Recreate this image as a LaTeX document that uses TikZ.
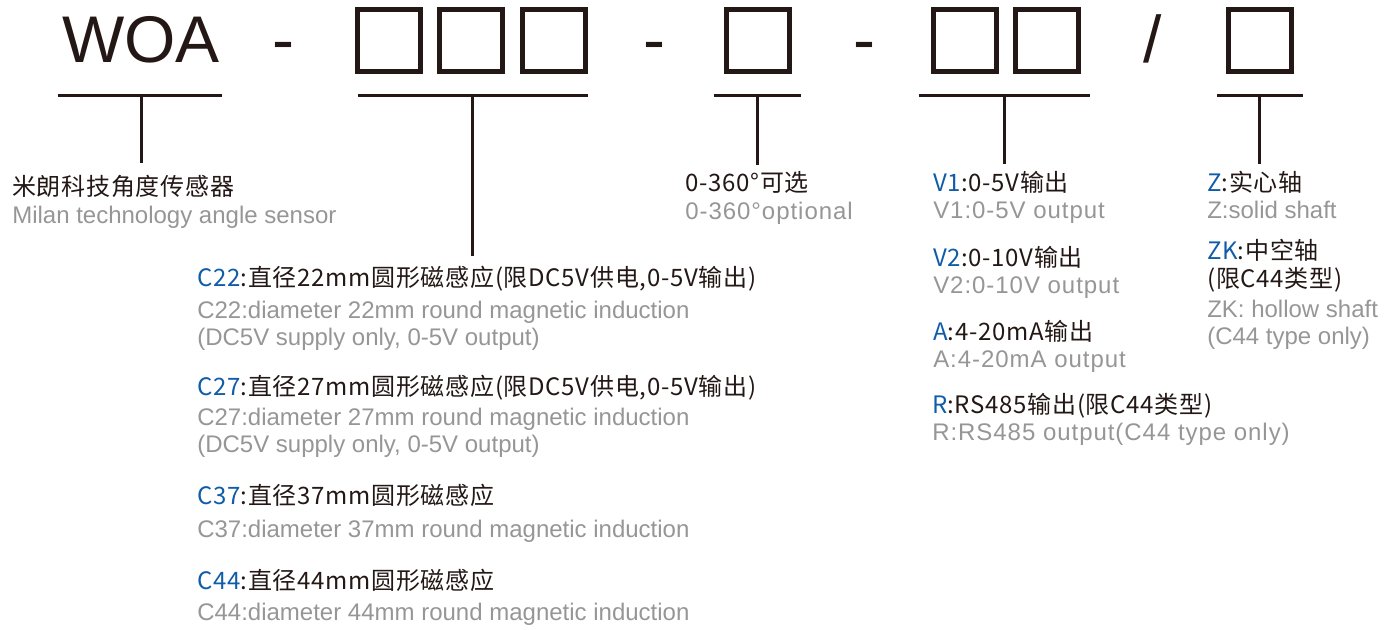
\documentclass[tikz,border=0pt]{standalone}
\usepackage{fontspec}
\setmainfont{Liberation Sans}
\newfontfamily\cjk[LetterSpace=3]{Noto Sans CJK SC}
\newfontfamily\widesans[LetterSpace=4]{Liberation Sans}
\usetikzlibrary{positioning}
\definecolor{codeblue}{RGB}{16,92,168}
\definecolor{notegray}{RGB}{150,150,150}
\definecolor{ink}{RGB}{35,24,21}
\newcommand{\blu}[1]{\textcolor{codeblue}{#1}}

\begin{document}
\begin{tikzpicture}[
  x=0.75pt,y=-0.75pt,
  code/.style={font=\fontsize{49.5}{50}\selectfont,text=ink,inner sep=0pt,anchor=base},
  slot/.style={draw=ink,line width=3.75pt,minimum width=47.25pt,minimum height=46.5pt,inner sep=0pt},
  bar/.style={ink,line width=2.25pt},
  zh/.style={font=\cjk\fontsize{18}{18}\selectfont,text=ink,inner sep=0pt,anchor=base west},
  en/.style={font=\fontsize{18}{18}\selectfont,text=notegray,inner sep=0pt,anchor=base west},
  enw/.style={en,font=\widesans\fontsize{18}{18}\selectfont}
]
  \useasboundingbox (0,0) rectangle (1397,629);
  % model code
  \node[code] (woa) at (141,62) {WOA};
  \node[code] (d1) at (283.5,62) {-};
  \node[slot] (s1) at (389,40.5) {};
  \node[slot] (s2) at (471,40.5) {};
  \node[slot] (s3) at (554,40.5) {};
  \node[code] (d2) at (654,62) {-};
  \node[slot] (s4) at (757.5,40.5) {};
  \node[code] (d3) at (864,62) {-};
  \node[slot] (s5) at (964.5,40.5) {};
  \node[slot] (s6) at (1047,40.5) {};
  \node[code] (sl) at (1153,62) {/};
  \node[slot] (s7) at (1259.5,40.5) {};
  % underlines and drops
  \coordinate (u1l) at (58,95);   \coordinate (u1r) at (222,95);
  \coordinate (u1t) at (141,95);  \coordinate (u1b) at (141,163);
  \coordinate (u2l) at (358,95);  \coordinate (u2r) at (588,95);
  \coordinate (u2t) at (472,95);  \coordinate (u2b) at (472,256);
  \coordinate (u3l) at (714,95);  \coordinate (u3r) at (801,95);
  \coordinate (u3t) at (757,95);  \coordinate (u3b) at (757,165);
  \coordinate (u4l) at (919,95);  \coordinate (u4r) at (1090,95);
  \coordinate (u4t) at (1004,95); \coordinate (u4b) at (1004,164);
  \coordinate (u5l) at (1217,95); \coordinate (u5r) at (1303,95);
  \coordinate (u5t) at (1259,95); \coordinate (u5b) at (1259,164);
  \draw[bar] (u1l)--(u1r) (u1t)--(u1b);
  \draw[bar] (u2l)--(u2r) (u2t)--(u2b);
  \draw[bar] (u3l)--(u3r) (u3t)--(u3b);
  \draw[bar] (u4l)--(u4r) (u4t)--(u4b);
  \draw[bar] (u5l)--(u5r) (u5t)--(u5b);
  % series
  \node[zh] (n-woa) at (12,195) {米朗科技角度传感器};
  \node[en] (e-woa) at (12,223) {Milan technology angle sensor};
  % size
  \node[zh] (n-c22) at (197,286) {\blu{C22}:直径22mm圆形磁感应(限DC5V供电,0-5V输出)};
  \node[en] (e-c22) at (197,318) {C22:diameter 22mm round magnetic induction};
  \node[en] (e-c22b) at (197,345) {(DC5V supply only, 0-5V output)};
  \node[zh] (n-c27) at (197,395) {\blu{C27}:直径27mm圆形磁感应(限DC5V供电,0-5V输出)};
  \node[en] (e-c27) at (197,425) {C27:diameter 27mm round magnetic induction};
  \node[en] (e-c27b) at (197,452) {(DC5V supply only, 0-5V output)};
  \node[zh] (n-c37) at (197,504) {\blu{C37}:直径37mm圆形磁感应};
  \node[en] (e-c37) at (197,537) {C37:diameter 37mm round magnetic induction};
  \node[zh] (n-c44) at (197,589) {\blu{C44}:直径44mm圆形磁感应};
  \node[en] (e-c44) at (197,620) {C44:diameter 44mm round magnetic induction};
  % angle
  \node[zh] (n-ang) at (685,191) {0-360°可选};
  \node[enw] (e-ang) at (685,219) {0-360°optional};
  % output
  \node[zh] (n-v1) at (933,191) {\blu{V1}:0-5V输出};
  \node[enw] (e-v1) at (933,218) {V1:0-5V output};
  \node[zh] (n-v2) at (933,266) {\blu{V2}:0-10V输出};
  \node[enw] (e-v2) at (933,293) {V2:0-10V output};
  \node[zh] (n-a) at (933,340) {\blu{A}:4-20mA输出};
  \node[enw] (e-a) at (933,367) {A:4-20mA output};
  \node[zh] (n-r) at (932,413) {\blu{R}:RS485输出(限C44类型)};
  \node[enw] (e-r) at (932,440) {R:RS485 output(C44 type only)};
  % shaft
  \node[zh] (n-z) at (1207,191) {\blu{Z}:实心轴};
  \node[en] (e-z) at (1207,218) {Z:solid shaft};
  \node[zh] (n-zk) at (1207,259) {\blu{ZK}:中空轴};
  \node[zh] (n-zk2) at (1207,287) {(限C44类型)};
  \node[en] (e-zk) at (1207,317) {ZK: hollow shaft};
  \node[en] (e-zk2) at (1207,344) {(C44 type only)};
\end{tikzpicture}
\end{document}
